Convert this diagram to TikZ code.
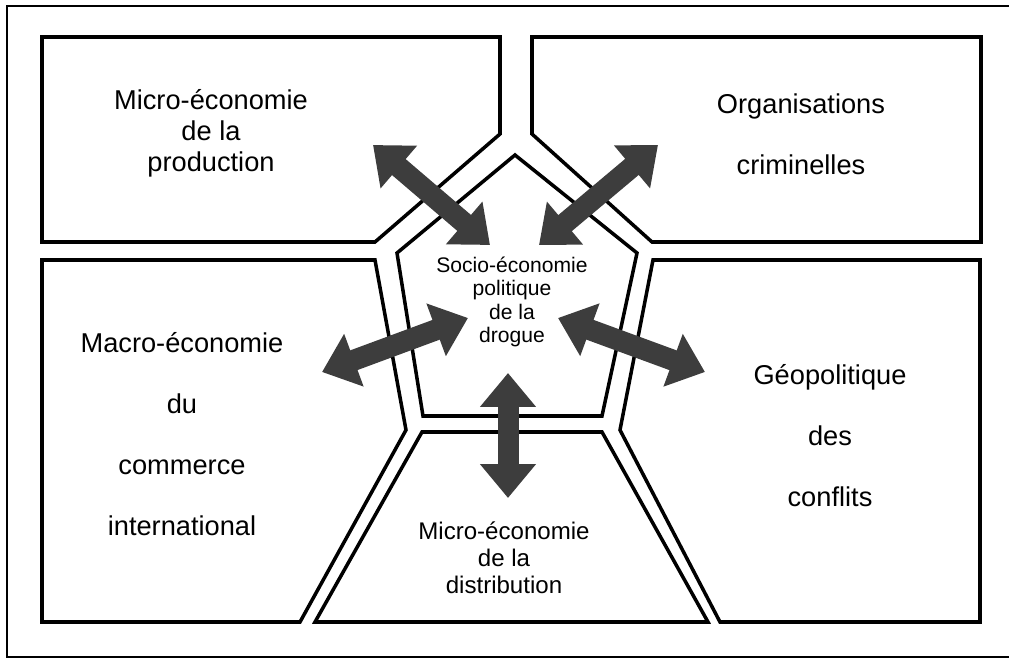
\documentclass[tikz,border=0pt]{standalone}
\usepackage{fontspec}
\setmainfont{Liberation Sans}
\usetikzlibrary{arrows.meta,positioning}
\tikzset{>={Triangle[length=6.8mm,width=10.8mm]}}
\tikzset{zone/.style={line width=2pt, line join=miter}}
\tikzset{fat/.style={<->, line width=4.2mm, draw=black!76}}
\tikzset{lbl/.style={align=center, font=\fontsize{15.5}{17.6}\selectfont}}
\tikzset{lbl wide/.style={align=center, font=\fontsize{15.5}{34.7}\selectfont}}
\tikzset{hub/.style={align=center, font=\fontsize{12}{13.3}\selectfont}}
\tikzset{distlbl/.style={align=center, font=\fontsize{13.7}{15.3}\selectfont}}

\begin{document}
\begin{tikzpicture}[x=0.02cm,y=-0.02cm]
      \useasboundingbox (0,0) rectangle (1009,659);
      \draw[line width=1.6pt] (1015,6) -- (7,6) -- (7,657) -- (1015,657);
      \draw[zone] (42,37) -- (500,37) -- (500,134) -- (375,242) -- (42,242) -- cycle;
      \draw[zone] (532,37) -- (981,37) -- (981,242) -- (652,242) -- (532,134) -- cycle;
      \draw[zone] (515,155) -- (637,253) -- (602,416) -- (423,416) -- (397,253) -- cycle;
      \draw[zone] (42,260) -- (375,260) -- (406,430) -- (300,622) -- (42,622) -- cycle;
      \draw[zone] (653,260) -- (980,260) -- (980,622) -- (720,622) -- (620,430) -- cycle;
      \draw[zone] (422,432) -- (602,432) -- (708,622) -- (315,622) -- cycle;
      \node[lbl] (prod) at (211,133) {Micro-économie\\de la\\production};
      \node[lbl wide] (crim) at (801,134) {Organisations\\criminelles};
      \node[lbl wide] (macro) at (182,434) {Macro-économie\\du\\commerce\\international};
      \node[lbl wide] (geo) at (830,436) {Géopolitique\\des\\conflits};
      \node[hub] (drug) at (512,302) {Socio-économie\\politique\\de la\\drogue};
      \node[distlbl] (distr) at (504,558) {Micro-économie\\de la\\distribution};
      \coordinate (a1) at (373,145);
      \coordinate (a2) at (490,245);
      \coordinate (b1) at (658,145);
      \coordinate (b2) at (539,245);
      \coordinate (c1) at (322,372);
      \coordinate (c2) at (468,318);
      \coordinate (d1) at (558,318);
      \coordinate (d2) at (705,372);
      \coordinate (e1) at (508,373);
      \coordinate (e2) at (508,498);
      \draw[fat] (a1) -- (a2);
      \draw[fat] (b1) -- (b2);
      \draw[fat] (c1) -- (c2);
      \draw[fat] (d1) -- (d2);
      \draw[fat] (e1) -- (e2);
    \end{tikzpicture}
\end{document}
